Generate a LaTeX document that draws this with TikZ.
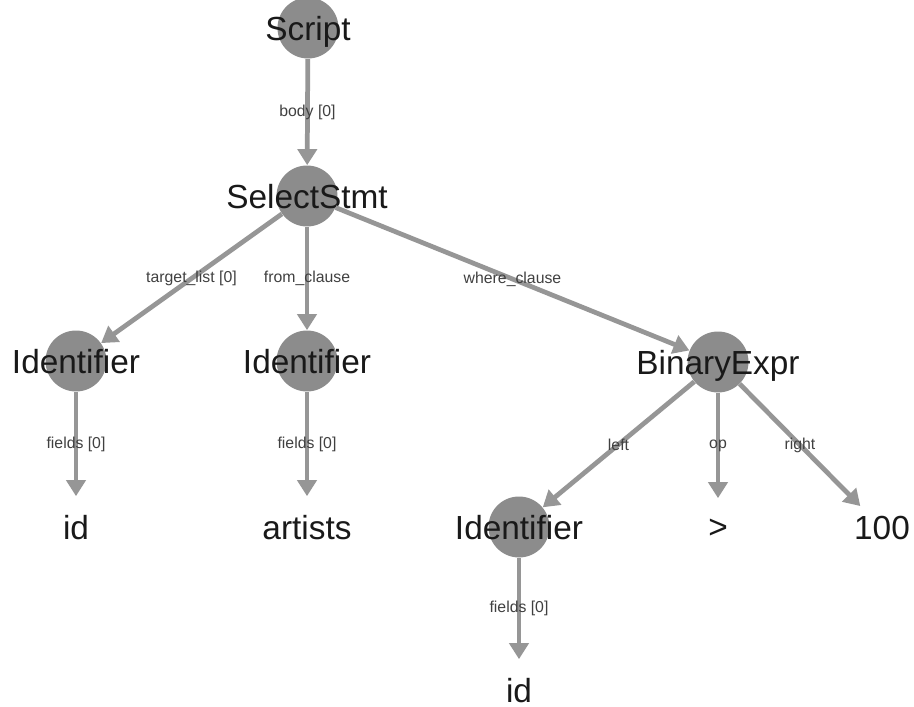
\documentclass[tikz,border=0pt]{standalone}
\usepackage{fontspec}
\setmainfont{Liberation Sans}
\usetikzlibrary{arrows.meta}
\definecolor{astgray}{RGB}{140,140,140}
\definecolor{edgegray}{RGB}{150,150,150}
\tikzset{
  nodetext/.style={font=\fontsize{19}{21}\selectfont, text=black!90,
    inner sep=0pt, text depth=0pt},
  astnode/.style={circle, minimum size=1.22cm, inner sep=0pt, fill=astgray,
    label={[nodetext]center:#1}},
  astleaf/.style={astnode=#1, fill=none},
  astedge/.style={draw=edgegray, line width=2.7pt,
    -{Triangle[length=0.32cm,width=0.38cm]}},
  edgelbl/.style={font=\fontsize{9}{10}\selectfont, text=black!75, inner sep=1pt}
}
\begin{document}
\begin{tikzpicture}[x=0.02cm, y=-0.02cm]
  \useasboundingbox (0,0) rectangle (914,707);
  % inner nodes
  \node[astnode=Script] (script) at (308,28) {};
  \node[astnode=SelectStmt] (select) at (307,196) {};
  \node[astnode=Identifier] (ident1) at (76,361) {};
  \node[astnode=Identifier] (ident2) at (307,361) {};
  \node[astnode=BinaryExpr] (binexpr) at (718,362) {};
  \node[astnode=Identifier] (ident3) at (519,527) {};
  % leaves
  \node[astleaf=id] (id1) at (76,527) {};
  \node[astleaf=artists] (artists) at (307,527) {};
  \node[astleaf=>] (gt) at (718,529) {};
  \node[astleaf=100] (hundred) at (882,528) {};
  \node[astleaf=id] (id2) at (519,690) {};

  \draw[astedge] (script) -- node[edgelbl] {body [0]} (select);
  \draw[astedge] (select) -- node[edgelbl] {target\_list [0]} (ident1);
  \draw[astedge] (select) -- node[edgelbl] {from\_clause} (ident2);
  \draw[astedge] (select) -- node[edgelbl] {where\_clause} (binexpr);
  \draw[astedge] (ident1) -- node[edgelbl] {fields [0]} (id1);
  \draw[astedge] (ident2) -- node[edgelbl] {fields [0]} (artists);
  \draw[astedge] (binexpr) -- node[edgelbl] {left} (ident3);
  \draw[astedge] (binexpr) -- node[edgelbl] {op} (gt);
  \draw[astedge] (binexpr) -- node[edgelbl] {right} (hundred);
  \draw[astedge] (ident3) -- node[edgelbl] {fields [0]} (id2);

\end{tikzpicture}
\end{document}
